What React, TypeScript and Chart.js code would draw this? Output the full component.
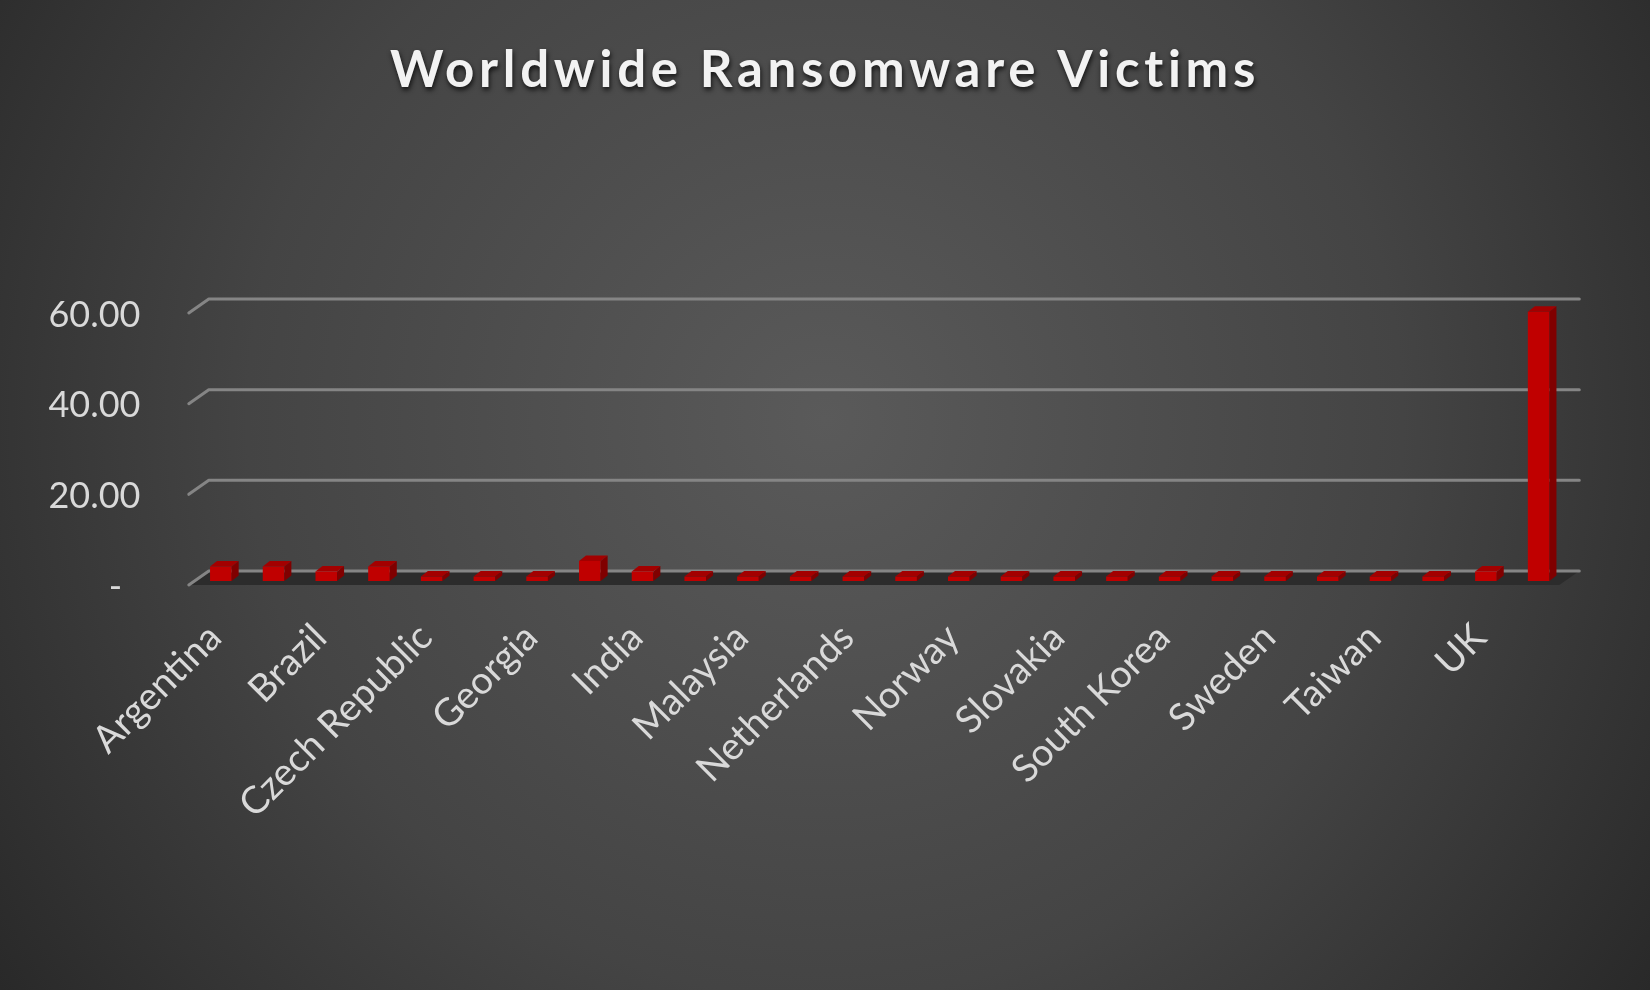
import React, { useEffect, useRef } from 'react';
import { Chart, registerables } from 'chart.js';

Chart.register(...registerables);

const chartTitle = 'Worldwide Ransomware Victims';
const categories = [
  'Argentina', 'Australia', 'Brazil', 'Canada', 'Czech Republic', 'France', 'Georgia',
  'Germany', 'India', 'Italy', 'Malaysia', 'Mexico', 'Netherlands', 'New Zealand',
  'Norway', 'Russia', 'Slovakia', 'South Africa', 'South Korea', 'Spain', 'Sweden',
  'Switzerland', 'Taiwan', 'Turkey', 'UK', 'USA',
];
const victims = [
  3.2, 3.2, 2.1, 3.2, 1.0, 1.0, 1.0, 4.4, 2.1, 1.0, 1.0, 1.0, 1.0, 1.0,
  1.0, 1.0, 1.0, 1.0, 1.0, 1.0, 1.0, 1.0, 1.0, 1.0, 2.1, 59.4,
];
const yTicks = [0, 20, 40, 60];
const yTickLabels = ['-  ', '20.00', '40.00', '60.00'];

// 3D projection offsets (style only)
const BACK_DX = 14.3;
const BACK_DY = -10;
const FRONT_DX = -5.7;
const FRONT_DY = 4;
const BAR_DX = 7;
const BAR_DY = -5.5;

const W = 1650;
const H = 990;

const backgroundPlugin = {
  id: 'bg',
  beforeDraw(chart: any) {
    const ctx = chart.ctx;
    ctx.save();
    const g = ctx.createRadialGradient(825, 420, 0, 825, 420, 1050);
    g.addColorStop(0, '#5a5a5a');
    g.addColorStop(0.55, '#444444');
    g.addColorStop(1, '#262626');
    ctx.fillStyle = g;
    ctx.fillRect(0, 0, W, H);
    ctx.restore();
  },
};

const wallPlugin = {
  id: 'wall',
  beforeDatasetsDraw(chart: any) {
    const ctx = chart.ctx;
    const { left, right } = chart.chartArea;
    const ys = chart.scales.y;
    const y0 = ys.getPixelForValue(0);
    ctx.save();
    // floor
    ctx.fillStyle = '#2c2c2c';
    ctx.beginPath();
    ctx.moveTo(left + FRONT_DX, y0 + FRONT_DY);
    ctx.lineTo(left + BACK_DX, y0 + BACK_DY);
    ctx.lineTo(right + BACK_DX, y0 + BACK_DY);
    ctx.lineTo(right + FRONT_DX, y0 + FRONT_DY);
    ctx.closePath();
    ctx.fill();
    // gridlines
    ctx.strokeStyle = '#858585';
    ctx.lineWidth = 3;
    ctx.lineCap = 'round';
    ctx.lineJoin = 'round';
    yTicks.forEach((v) => {
      const y = ys.getPixelForValue(v);
      ctx.beginPath();
      ctx.moveTo(left + FRONT_DX, y + FRONT_DY);
      ctx.lineTo(left + BACK_DX, y + BACK_DY);
      ctx.lineTo(right + BACK_DX, y + BACK_DY);
      ctx.stroke();
    });
    ctx.restore();
  },
};

const bar3dPlugin = {
  id: 'bar3d',
  afterDatasetsDraw(chart: any) {
    const ctx = chart.ctx;
    const meta = chart.getDatasetMeta(0);
    ctx.save();
    meta.data.forEach((bar: any) => {
      const { x, y, base, width } = bar.getProps(['x', 'y', 'base', 'width'], true);
      const l = x - width / 2;
      const r = x + width / 2;
      // top face
      ctx.fillStyle = '#a30000';
      ctx.beginPath();
      ctx.moveTo(l, y);
      ctx.lineTo(l + BAR_DX, y + BAR_DY);
      ctx.lineTo(r + BAR_DX, y + BAR_DY);
      ctx.lineTo(r, y);
      ctx.closePath();
      ctx.fill();
      // side face
      ctx.fillStyle = '#800000';
      ctx.beginPath();
      ctx.moveTo(r, y);
      ctx.lineTo(r + BAR_DX, y + BAR_DY);
      ctx.lineTo(r + BAR_DX, base + BAR_DY);
      ctx.lineTo(r, base);
      ctx.closePath();
      ctx.fill();
    });
    ctx.restore();
  },
};

const titlePlugin = {
  id: 'customTitle',
  afterDraw(chart: any) {
    const ctx = chart.ctx;
    ctx.save();
    ctx.font = 'bold 51px Lato';
    (ctx as any).letterSpacing = '4.7px';
    ctx.textAlign = 'center';
    ctx.textBaseline = 'middle';
    ctx.shadowColor = 'rgba(0,0,0,0.75)';
    ctx.shadowBlur = 5;
    ctx.shadowOffsetX = 1;
    ctx.shadowOffsetY = 3;
    ctx.fillStyle = '#f2f2f2';
    ctx.fillText(chartTitle, 825, 71);
    ctx.restore();
  },
};

export default function App() {
  const ref = useRef<HTMLCanvasElement | null>(null);

  useEffect(() => {
    document.body.style.margin = '0';
    const canvas = ref.current;
    if (!canvas) return;
    const chart = new Chart(canvas, {
      type: 'bar',
      data: {
        labels: categories,
        datasets: [
          {
            data: victims,
            backgroundColor: '#c00000',
            borderWidth: 0,
            barPercentage: 0.41,
            categoryPercentage: 1,
          },
        ],
      },
      options: {
        animation: false,
        responsive: false,
        maintainAspectRatio: false,
        devicePixelRatio: 1,
        layout: { padding: { top: 309, right: 85, left: 0, bottom: 0 } },
        plugins: {
          legend: { display: false },
          title: { display: false },
          tooltip: { enabled: false },
        },
        scales: {
          x: {
            grid: { display: false, drawTicks: false },
            border: { display: false },
            ticks: {
              autoSkip: false,
              minRotation: 45,
              maxRotation: 45,
              color: '#d9d9d9',
              font: { family: 'Lato', size: 38 },
              padding: 34,
              labelOffset: -6,
              callback: (_v: any, i: number) => (i % 2 === 0 ? categories[i] : ''),
            },
            afterFit: (s: any) => {
              s.height = H - 581;
            },
          },
          y: {
            min: 0,
            max: 60,
            grid: { display: false, drawTicks: false },
            border: { display: false },
            afterBuildTicks: (s: any) => {
              s.ticks = yTicks.map((v) => ({ value: v }));
            },
            ticks: {
              color: '#d9d9d9',
              font: { family: 'Lato', size: 36 },
              padding: 54,
              labelOffset: 6,
              callback: (v: any) => yTickLabels[yTicks.indexOf(Number(v))],
            },
            afterFit: (s: any) => {
              s.width = 194.5;
            },
          },
        },
      },
      plugins: [backgroundPlugin, wallPlugin, bar3dPlugin, titlePlugin],
    });
    return () => chart.destroy();
  }, []);

  return (
    <div style={{ position: 'fixed', left: 0, top: 0, width: W, height: H }}>
      <canvas ref={ref} width={W} height={H} style={{ display: 'block', width: W, height: H }} />
    </div>
  );
}
